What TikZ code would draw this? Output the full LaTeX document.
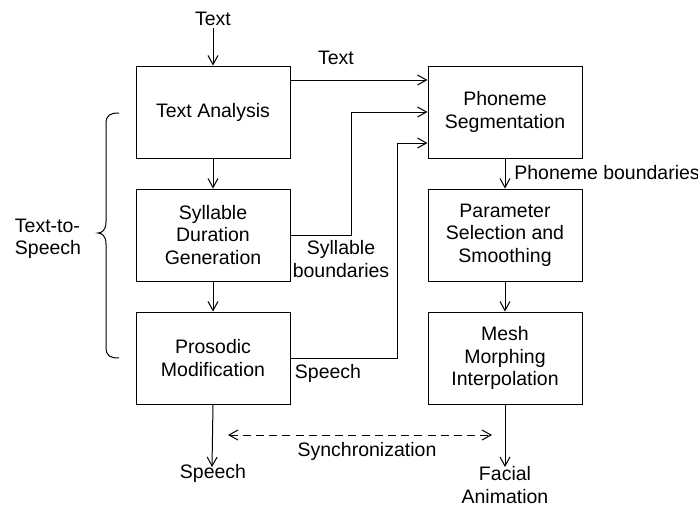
\documentclass[tikz,border=0pt]{standalone}
\usepackage{fontspec}
\setmainfont{Liberation Sans}
\usetikzlibrary{arrows.meta}
\begin{document}
\begin{tikzpicture}[x=0.5pt,y=-0.5pt,
  every node/.style={font=\fontsize{9.75pt}{11.3pt}\selectfont, inner sep=1pt},
  blk/.style={draw, line width=0.5pt, minimum width=77pt, minimum height=46pt, align=center},
  lbl/.style={align=center},
  arr/.style={line width=0.5pt, -{Straight Barb[length=4.5pt,width=5pt,line width=0.5pt]}},
  darr/.style={line width=0.5pt, dash pattern=on 4pt off 2.6pt, {Straight Barb[length=4.5pt,width=5pt,line width=0.5pt]}-{Straight Barb[length=4.5pt,width=5pt,line width=0.5pt]}}]
\useasboundingbox (0,0) rectangle (698,509);
% boxes
\node[blk] (ta)  at (213,112) {Text Analysis};
\node[blk] (sd)  at (213,235) {Syllable\\Duration\\Generation};
\node[blk] (pm)  at (213,358) {Prosodic\\Modification};
\node[blk] (ps)  at (505,112) {Phoneme\\Segmentation};
\node[blk] (pss) at (505,235) {Parameter\\Selection and\\Smoothing};
\node[blk] (mm)  at (505,358) {Mesh\\Morphing\\Interpolation};
% labels
\node[lbl] (tin) at (213,19) {Text};
\node[lbl] (ttx) at (336,58) {Text};
\node[lbl] (sbl) at (341,259) {Syllable\\boundaries};
\node[lbl] (spm) at (328,373) {Speech};
\node[lbl,anchor=west] (pbl) at (512,173) {Phoneme boundaries};
\node[lbl] (sout) at (213,473) {Speech};
\node[lbl] (fout) at (505,485) {Facial\\Animation};
\node[lbl] (sync) at (367,451) {Synchronization};
\node[align=left] (tts) at (48,239) {Text-to-\\Speech};
% connectors
\draw[arr] (tin.south) -- (ta.north);
\draw[arr] (ta.east |- 0,80) -- (ps.west |- 0,80);
\draw[arr] (ta.south) -- (sd.north);
\draw[arr] (sd.south) -- (pm.north);
\draw[arr] (sd.east) -| (351,112) -- (ps.west);
\draw[arr] (pm.east) -| (397,143) -- (ps.west |- 0,143);
\draw[arr] (ps.south) -- (pss.north);
\draw[arr] (pss.south) -- (mm.north);
\coordinate (fend) at (505,467);
\draw[arr] (mm.south) -- (fend);
\coordinate (send) at (212,467);
\draw[arr] (pm.south) -- (send);
\coordinate (sl) at (228,435);
\coordinate (sr) at (492,435);
\draw[darr] (sl) -- (sr);
% brace
\draw[line width=0.5pt] (119,113) .. controls (110,113) and (106,115) .. (106,124)
  -- (106,222) .. controls (106,230) and (102,233) .. (98,233)
  .. controls (102,233) and (106,236) .. (106,244)
  -- (106,347) .. controls (106,356) and (110,358) .. (119,358);
\end{tikzpicture}
\end{document}
